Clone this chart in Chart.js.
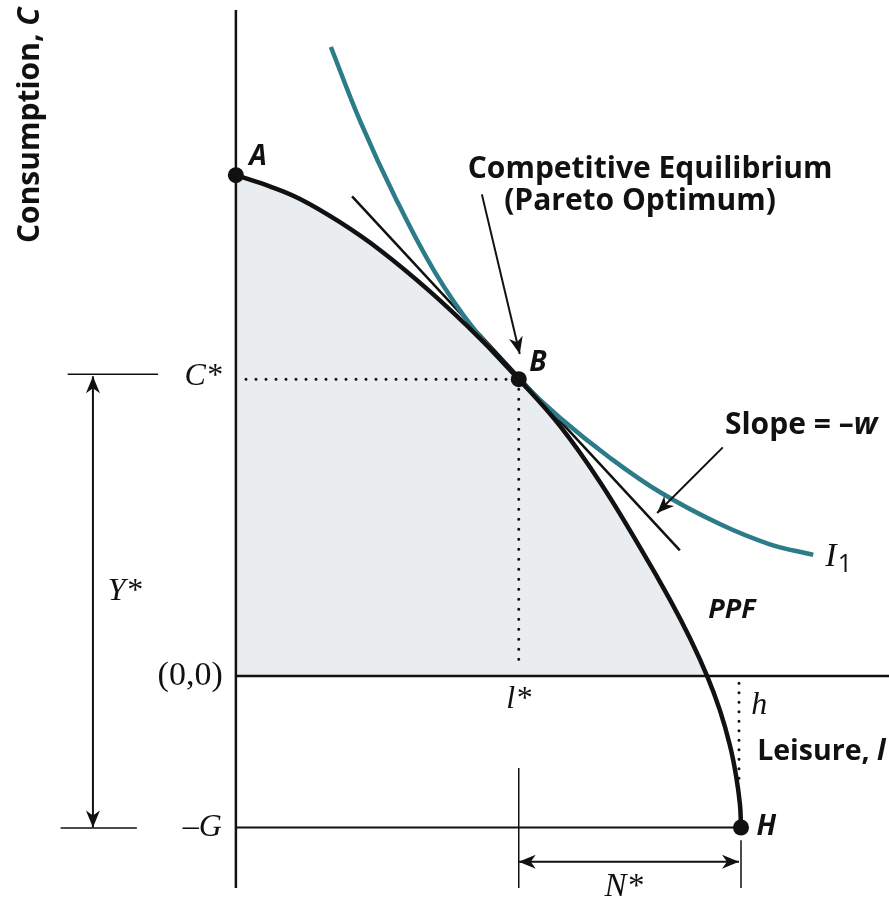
<!DOCTYPE html>
<html>
<head>
<meta charset="utf-8">
<script src="https://cdn.jsdelivr.net/npm/chart.js"></script>
<style>
  html, body { margin: 0; padding: 0; background: #fff; }
  #wrap { width: 889px; height: 902px; }
</style>
</head>
<body>
<div id="wrap"><canvas id="ppfChart" width="889" height="902"></canvas></div>
<script>
// production possibilities frontier (leisure l, consumption C)
const ppfLeisure     = [0, 6.7, 12.7, 20.6, 28.5, 38.4, 48.3, 56.0, 64.2, 72.1, 80.0, 85.9, 89.9, 93.3, 95.8, 97.8, 99.0, 99.8, 100];
const ppfConsumption = [99.2, 97.0, 94.5, 89.9, 84.4, 76.2, 66.9, 58.8, 49.5, 38.4, 25.5, 15.2, 7.5, 0, -6.7, -13.7, -19.6, -25.5, -30];

// indifference curve I1
const indiffLeisure     = [18.8, 24.6, 31.5, 39.4, 47.3, 56.0, 64.2, 74.1, 84.0, 95.8, 105.7, 114.3];
const indiffConsumption = [124.6, 109.9, 94.9, 80.0, 68.5, 58.8, 51.1, 43.2, 36.4, 30.1, 26.1, 24.0];

// tangent line, slope = -w
const tangentLeisure     = [23.0, 87.9];
const tangentConsumption = [95.0, 24.9];

// key values
const h = 100, G = 30, lStar = 56.0, cStar = 58.8, yMaxC = 99.2;
const pointNames = ['A', 'B', 'H'];
const pointLeisure = [0, lStar, h];
const pointConsumption = [yMaxC, cStar, -G];

const xy = (xs, ys) => xs.map((x, i) => ({ x: x, y: ys[i] }));

const BLACK = '#111';
const TEAL = '#2b7b88';
const SHADE = '#e9edef';
const SANS = '"Open Sans"';
const SERIF = '"Liberation Serif"';

// text labels, anchored in data units
const labels = [
  { t: 'A', x: 4.4, y: 102.8, font: 'italic bold 28px ' + SANS },
  { t: 'B', x: 59.8, y: 62.0, font: 'italic bold 28px ' + SANS },
  { t: 'H', x: 105.0, y: -29.9, font: 'italic bold 28px ' + SANS },
  { t: 'PPF', x: 98.2, y: 13.0, font: 'italic bold 27px ' + SANS },
  { t: 'Competitive Equilibrium', x: 82.0, y: 100.4, font: 'bold 30px ' + SANS },
  { t: '(Pareto Optimum)', x: 80.0, y: 94.0, font: 'bold 30px ' + SANS },
  { t: 'C*', x: -2.8, y: 59.4, font: 'italic 32px ' + SERIF, align: 'right' },
  { t: '(0,0)', x: -2.6, y: 0, font: '34px ' + SERIF, align: 'right' },
  { t: '\u2013G', x: -2.8, y: -30.1, font: 'italic 32px ' + SERIF, align: 'right' },
  { t: 'Y*', x: -22.0, y: 16.8, font: 'italic 32px ' + SERIF },
  { t: 'l*', x: 56.0, y: -4.6, font: 'italic 32px ' + SERIF },
  { t: 'h', x: 103.6, y: -5.9, font: 'italic 32px ' + SERIF },
  { t: 'N*', x: 76.8, y: -41.8, font: 'italic 33px ' + SERIF }
];

// labels made of a plain part and an italic part: [plain, italic, x, y, size, rotated, align]
const mixedLabels = [
  ['Consumption, ', 'C', -40.6, 109.1, 30, true, 'center'],
  ['Leisure, ', 'l', 103.2, -15.0, 28.5, false, 'left'],
  ['Slope = \u2013', 'w', 111.9, 49.6, 30, false, 'center']
];

// arrows: [fromX, fromY, toX, toY, doubleHeaded]
const arrows = [
  [48.7, 95.4, 56.2, 63.8, false],
  [96.4, 45.3, 83.4, 32.3, false],
  [-28.3, 59.4, -28.3, -30.0, true],
  [56.0, -36.8, 99.6, -36.8, true]
];

function segment(xs, ys, width, extra) {
  return Object.assign({
    data: xy(xs, ys), showLine: true, borderColor: BLACK, borderWidth: width,
    pointRadius: 0, fill: false, order: 5
  }, extra || {});
}

function head(ctx, x1, y1, x2, y2) {
  const a = Math.atan2(y2 - y1, x2 - x1);
  ctx.save();
  ctx.translate(x2, y2);
  ctx.rotate(a);
  ctx.beginPath();
  ctx.moveTo(0, 0);
  ctx.lineTo(-17, -7);
  ctx.lineTo(-12, 0);
  ctx.lineTo(-17, 7);
  ctx.closePath();
  ctx.fill();
  ctx.restore();
}

const annotate = {
  id: 'annotate',
  afterDatasetsDraw(chart) {
    const ctx = chart.ctx, sx = chart.scales.x, sy = chart.scales.y;
    ctx.save();
    ctx.fillStyle = BLACK;
    ctx.strokeStyle = BLACK;
    ctx.lineWidth = 2;
    arrows.forEach(a => {
      const x1 = sx.getPixelForValue(a[0]), y1 = sy.getPixelForValue(a[1]);
      const x2 = sx.getPixelForValue(a[2]), y2 = sy.getPixelForValue(a[3]);
      ctx.beginPath(); ctx.moveTo(x1, y1); ctx.lineTo(x2, y2); ctx.stroke();
      head(ctx, x1, y1, x2, y2);
      if (a[4]) head(ctx, x2, y2, x1, y1);
    });
    ctx.textBaseline = 'middle';
    labels.forEach(l => {
      ctx.font = l.font;
      ctx.textAlign = l.align || 'center';
      ctx.fillText(l.t, sx.getPixelForValue(l.x), sy.getPixelForValue(l.y));
    });
    mixedLabels.forEach(m => {
      const plain = 'bold ' + m[4] + 'px ' + SANS, ital = 'italic bold ' + m[4] + 'px ' + SANS;
      ctx.font = plain;
      const w1 = ctx.measureText(m[0]).width;
      ctx.font = ital;
      const w2 = ctx.measureText(m[1]).width;
      ctx.save();
      ctx.translate(sx.getPixelForValue(m[2]), sy.getPixelForValue(m[3]));
      if (m[5]) ctx.rotate(-Math.PI / 2);
      const x0 = m[6] === 'left' ? 0 : -(w1 + w2) / 2;
      ctx.textAlign = 'left';
      ctx.font = plain;
      ctx.fillText(m[0], x0, 0);
      ctx.font = ital;
      ctx.fillText(m[1], x0 + w1, 0);
      ctx.restore();
    });
    // I1 label
    const ix = sx.getPixelForValue(117.8), iy = sy.getPixelForValue(23.6);
    ctx.font = 'italic 34px ' + SERIF;
    ctx.textAlign = 'center';
    ctx.fillText('I', ix, iy);
    ctx.font = '25px ' + SANS;
    ctx.fillText('1', ix + 14, iy + 8);
    ctx.restore();
  }
};

new Chart(document.getElementById('ppfChart'), {
  type: 'scatter',
  data: {
    datasets: [
      // shaded feasible set
      {
        data: xy(ppfLeisure, ppfConsumption), showLine: true, borderWidth: 0,
        borderColor: 'rgba(0,0,0,0)', pointRadius: 0, tension: 0.4,
        fill: { target: 'origin', above: SHADE, below: 'rgba(0,0,0,0)' }, order: 10
      },
      // axes and guide lines
      segment([0, 0], [-42, 131.9], 2.5),
      segment([0, 129.3], [0, 0], 2.5),
      segment([0, h], [-G, -G], 2),
      segment([-33.3, -15.4], [59.8, 59.8], 1.5),
      segment([-34.7, -19.6], [-30.1, -30.1], 1.5),
      segment([lStar, lStar], [-18.2, -42], 1.5),
      segment([h, h], [-32.5, -42], 1.5),
      // dotted guides
      segment([2, lStar], [cStar, cStar], 3, { borderDash: [0, 10], borderCapStyle: 'round' }),
      segment([lStar, lStar], [cStar, 1.6], 3, { borderDash: [0, 10], borderCapStyle: 'round' }),
      segment([99.6, 99.6], [-1.4, -21.2], 3, { borderDash: [0, 9.5], borderCapStyle: 'round' }),
      // tangent line
      segment(tangentLeisure, tangentConsumption, 2.5, { order: 4 }),
      // indifference curve
      {
        data: xy(indiffLeisure, indiffConsumption), showLine: true, borderColor: TEAL,
        borderWidth: 4.5, pointRadius: 0, tension: 0.4, order: 3
      },
      // PPF
      {
        data: xy(ppfLeisure, ppfConsumption), showLine: true, borderColor: BLACK,
        borderWidth: 4.5, pointRadius: 0, tension: 0.4, order: 2
      },
      // labelled points
      {
        data: xy(pointLeisure, pointConsumption), showLine: false, pointRadius: 8,
        pointBackgroundColor: BLACK, pointBorderWidth: 0, order: 1
      }
    ]
  },
  options: {
    responsive: false,
    animation: false,
    layout: { padding: 0, autoPadding: false },
    plugins: { legend: { display: false }, tooltip: { enabled: false } },
    scales: {
      x: { type: 'linear', display: false, min: -46.7, max: 129.3 },
      y: { type: 'linear', display: false, min: -44.75, max: 133.9 }
    }
  },
  plugins: [annotate]
});
</script>
</body>
</html>
